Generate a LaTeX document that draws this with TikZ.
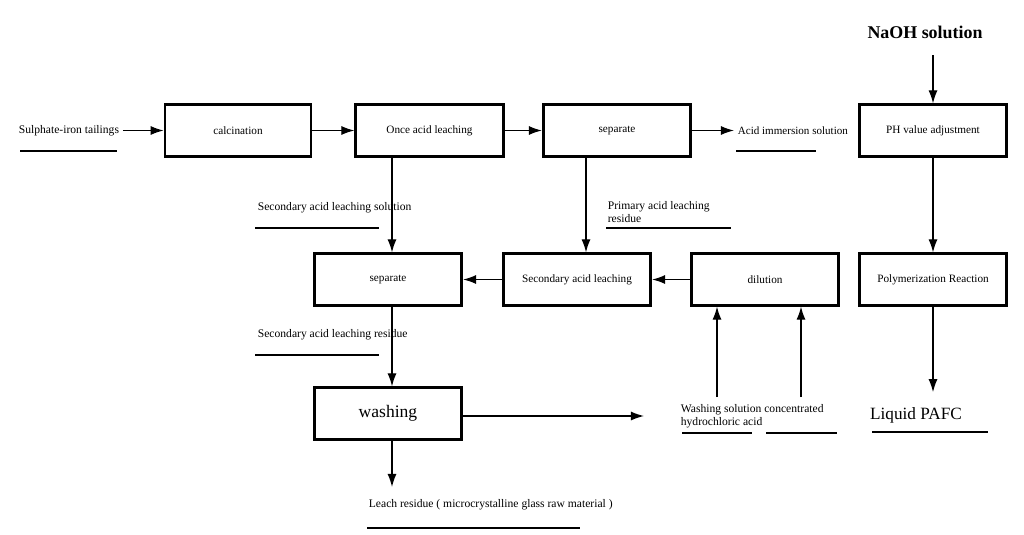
\documentclass[tikz,border=0pt]{standalone}
\usepackage{fontspec}
\setmainfont{Liberation Serif}
\usetikzlibrary{arrows.meta}
\tikzset{
    box/.style={draw, line width=1.5pt, minimum width=2.95cm, minimum height=1.03cm, inner sep=1pt, font=\fontsize{6.4}{7.4}\selectfont},
    arr/.style={-{Latex[length=7.5pt,width=5.2pt]}, line width=0.8pt},
    uline/.style={line width=1.5pt},
    lbl/.style={font=\fontsize{6.6}{7.2}\selectfont, inner sep=2pt, align=left}
}
\begin{document}
\begin{tikzpicture}[x=0.02cm, y=-0.02cm]
    \useasboundingbox (0,0) rectangle (1024,534);
    % Boxes
    \node [box, minimum width=2.92cm] (calc) at (238,130.5) {calcination};
    \node [box] (once) at (429.5,130.5) {Once acid leaching};
    \node [box] (sepa) at (617,130.5) {separate};
    \node [box] (ph) at (933,130.5) {PH value adjustment};
    \node [box] (sepb) at (388,279.5) {separate};
    \node [box] (sec) at (577,279.5) {Secondary acid leaching};
    \node [box] (dil) at (765,279.5) {dilution};
    \node [box] (poly) at (933,279.5) {Polymerization Reaction};
    \node [box, font=\fontsize{10}{12}\selectfont] (wash) at (388,413.5) {washing};
    % Labels
    \node [lbl, anchor=west] (feed) at (15,130.5) {Sulphate-iron tailings};
    \node [lbl, anchor=west, font=\fontsize{6.3}{7.2}\selectfont] (acid) at (734,130.5) {Acid immersion solution};
    \node [font=\bfseries\fontsize{10.2}{12}\selectfont] (naoh) at (925,32) {NaOH solution};
    \node [lbl, anchor=west] (secsol) at (254,208) {Secondary acid leaching solution};
    \node [lbl, anchor=west] (prim) at (604,212) {Primary acid leaching\\residue};
    \node [lbl, anchor=west] (secres) at (254,335) {Secondary acid leaching residue};
    \node [lbl, anchor=west] (wsol) at (677,416) {Washing solution concentrated\\hydrochloric acid};
    \node [font=\fontsize{9.8}{12}\selectfont] (pafc) at (916,415) {Liquid PAFC};
    \node [lbl, anchor=west] (leach) at (365,505) {Leach residue ( microcrystalline glass raw material )};
    % Coordinate
    \coordinate (c1) at (392,0);
    \coordinate (c2) at (586,0);
    \coordinate (w1) at (717,397);
    \coordinate (w2) at (801,397);
    \coordinate (wend) at (644,416);
    \coordinate (lend) at (392,487);
    % Arrows
    \draw [arr] (feed) -- (calc);
    \draw [arr] (calc) -- (once);
    \draw [arr] (once) -- (sepa);
    \draw [arr] (sepa.east) -- (acid.west);
    \draw [arr, shorten <=6pt] (naoh.south -| ph.north) -- (ph.north);
    \draw [arr] (ph) -- (poly);
    \draw [arr, shorten >=5pt] (poly.south) -- (pafc.north -| poly.south);
    \draw [arr] (once.south -| c1) -- (sepb.north -| c1);
    \draw [arr] (sepa.south -| c2) -- (sec.north -| c2);
    \draw [arr] (dil) -- (sec);
    \draw [arr] (sec) -- (sepb);
    \draw [arr] (w1) -- (dil.south -| w1);
    \draw [arr] (w2) -- (dil.south -| w2);
    \draw [arr] (sepb.south -| c1) -- (wash.north -| c1);
    \draw [arr] (wash.east |- wend) -- (wend);
    \draw [arr] (wash.south -| c1) -- (lend);
    % Underlines
    \draw [uline] (20,151) -- (117,151);
    \draw [uline] (736,151) -- (816,151);
    \draw [uline] (255,228) -- (379,228);
    \draw [uline] (606,228) -- (731,228);
    \draw [uline] (255,355) -- (379,355);
    \draw [uline] (682,433) -- (752,433);
    \draw [uline] (766,433) -- (837,433);
    \draw [uline] (872,432) -- (988,432);
    \draw [uline] (367,528) -- (580,528);
\end{tikzpicture}
\end{document}
